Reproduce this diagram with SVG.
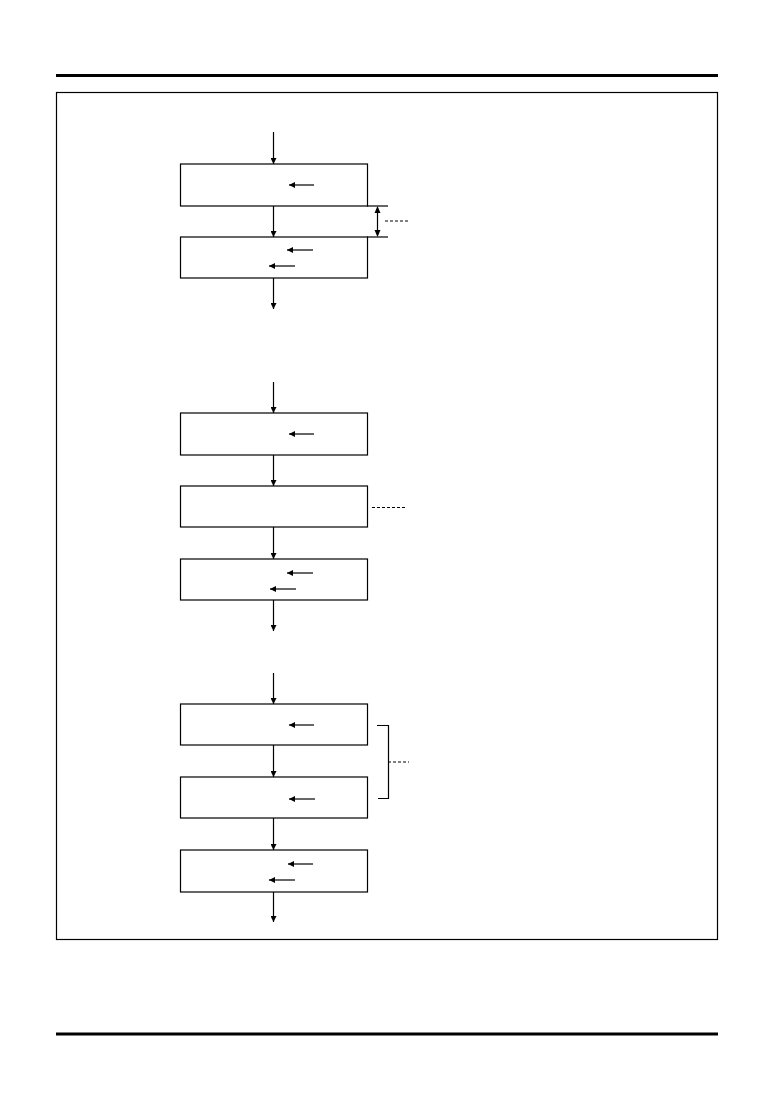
<svg xmlns="http://www.w3.org/2000/svg" width="774" height="1093" viewBox="0 0 774 1093">
<style>
.box{fill:#fff;stroke:#000;stroke-width:1.2}
.ln{stroke:#000;stroke-width:1.2;fill:none}
.dash{stroke:#000;stroke-width:1;stroke-dasharray:3,2;fill:none}
.rule{stroke:#000;stroke-width:3}
</style>
<defs>
<marker id="ah" viewBox="0 0 10 10" refX="10" refY="5" markerWidth="6" markerHeight="6" markerUnits="userSpaceOnUse" orient="auto">
<path d="M0,0 L10,5 L0,10 Z" fill="#000"/>
</marker>
</defs>
<rect width="774" height="1093" fill="#fff"/>
<line class="rule" x1="56" y1="75.5" x2="718" y2="75.5"/>
<line class="rule" x1="56" y1="1034" x2="718" y2="1034"/>
<rect x="56.5" y="92.5" width="661" height="847" fill="none" stroke="#000" stroke-width="1.2"/>

<g id="connectors">
<line class="ln" x1="273.5" y1="132" x2="273.5" y2="164" marker-end="url(#ah)"/>
<line class="ln" x1="273.5" y1="206" x2="273.5" y2="237" marker-end="url(#ah)"/>
<line class="ln" x1="273.5" y1="278" x2="273.5" y2="309" marker-end="url(#ah)"/>
<line class="ln" x1="273.5" y1="382" x2="273.5" y2="413" marker-end="url(#ah)"/>
<line class="ln" x1="273.5" y1="455" x2="273.5" y2="486" marker-end="url(#ah)"/>
<line class="ln" x1="273.5" y1="527" x2="273.5" y2="559" marker-end="url(#ah)"/>
<line class="ln" x1="273.5" y1="600" x2="273.5" y2="631" marker-end="url(#ah)"/>
<line class="ln" x1="273.5" y1="673" x2="273.5" y2="704" marker-end="url(#ah)"/>
<line class="ln" x1="273.5" y1="745" x2="273.5" y2="777" marker-end="url(#ah)"/>
<line class="ln" x1="273.5" y1="818" x2="273.5" y2="850" marker-end="url(#ah)"/>
<line class="ln" x1="273.5" y1="892" x2="273.5" y2="922" marker-end="url(#ah)"/>
<!-- timing dimension -->
<line class="ln" x1="367" y1="206" x2="388" y2="206"/>
<line class="ln" x1="367" y1="237" x2="388" y2="237"/>
<line class="ln" x1="377.5" y1="212" x2="377.5" y2="231"/>
<path d="M377.5,206 L374.5,213 L380.5,213 Z" fill="#000"/>
<path d="M377.5,237 L374.5,230 L380.5,230 Z" fill="#000"/>
<line class="dash" x1="385" y1="221" x2="409" y2="221"/>
<line class="dash" x1="372" y1="507.5" x2="407" y2="507.5"/>
<!-- bracket -->
<path class="ln" d="M377,725.5 H388.5 V798.5 H378"/>
<line class="dash" x1="388" y1="762" x2="409" y2="762"/>
</g>

<g id="n1">
<rect class="box" x="180.5" y="164" width="187" height="42"/>
<line class="ln" x1="314" y1="185" x2="289" y2="185" marker-end="url(#ah)"/>
</g>
<g id="n2">
<rect class="box" x="180.5" y="237" width="187" height="41"/>
<line class="ln" x1="313" y1="250" x2="287" y2="250" marker-end="url(#ah)"/>
<line class="ln" x1="295" y1="266" x2="269" y2="266" marker-end="url(#ah)"/>
</g>
<g id="n3">
<rect class="box" x="180.5" y="413" width="187" height="42"/>
<line class="ln" x1="314" y1="434" x2="289" y2="434" marker-end="url(#ah)"/>
</g>
<g id="n4">
<rect class="box" x="180.5" y="486" width="187" height="41"/>
</g>
<g id="n5">
<rect class="box" x="180.5" y="559" width="187" height="41"/>
<line class="ln" x1="313" y1="573" x2="287" y2="573" marker-end="url(#ah)"/>
<line class="ln" x1="296" y1="589" x2="270" y2="589" marker-end="url(#ah)"/>
</g>
<g id="n6">
<rect class="box" x="180.5" y="704" width="187" height="41"/>
<line class="ln" x1="314" y1="725" x2="289" y2="725" marker-end="url(#ah)"/>
</g>
<g id="n7">
<rect class="box" x="180.5" y="777" width="187" height="41"/>
<line class="ln" x1="315" y1="799" x2="289" y2="799" marker-end="url(#ah)"/>
</g>
<g id="n8">
<rect class="box" x="180.5" y="850" width="187" height="42"/>
<line class="ln" x1="313" y1="864" x2="288" y2="864" marker-end="url(#ah)"/>
<line class="ln" x1="295" y1="880" x2="269" y2="880" marker-end="url(#ah)"/>
</g>
</svg>
